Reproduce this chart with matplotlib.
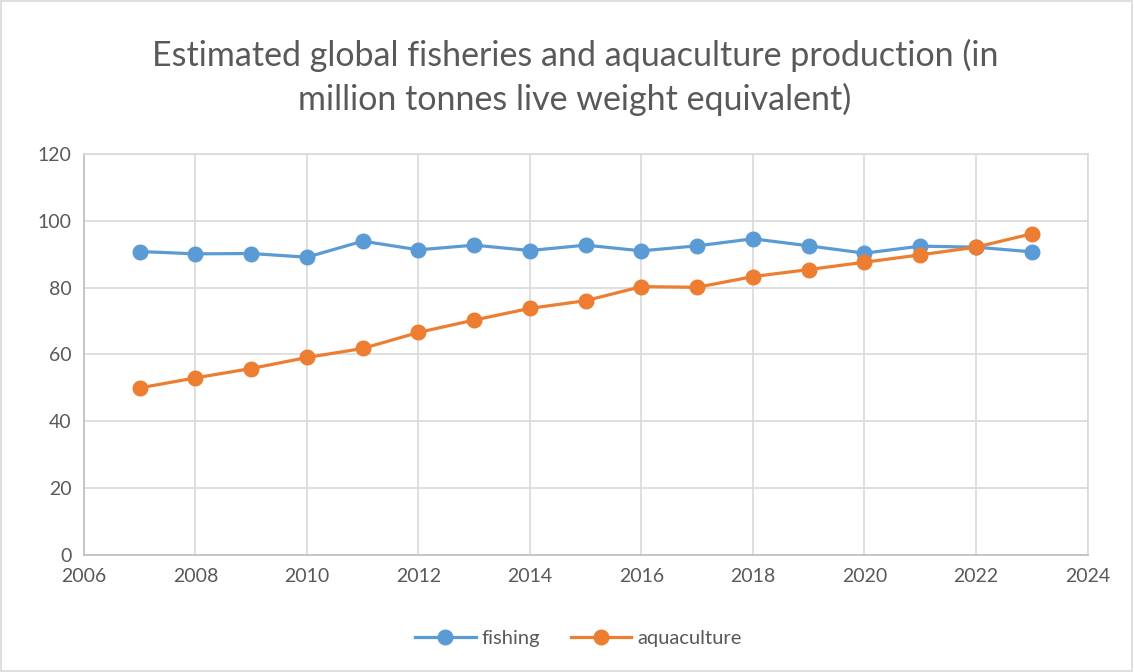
import matplotlib.pyplot as plt
from matplotlib.patches import Rectangle

years = list(range(2007, 2024))
fishing = [90.8, 90.1, 90.2, 89.1, 93.9, 91.3, 92.7, 91.1, 92.7,
           91.0, 92.5, 94.6, 92.5, 90.3, 92.4, 92.1, 90.7]
aquaculture = [50.0, 53.0, 55.8, 59.1, 61.8, 66.6, 70.3, 73.8, 76.1,
               80.3, 80.1, 83.3, 85.4, 87.6, 89.8, 92.1, 96.1]

title = "Estimated global fisheries and aquaculture production (in\nmillion tonnes live weight equivalent)"
text_grey = "#595959"
grid_grey = "#D9D9D9"

plt.rcParams['font.family'] = ['Lato', 'DejaVu Sans']

fig = plt.figure(figsize=(11.34, 6.72), dpi=100)
ax = fig.add_axes([0.074, 0.174, 0.885, 0.597])

ax.plot(years, fishing, color="#5B9BD5", lw=2.3, marker="o", ms=10.5,
        label="fishing", zorder=3)
ax.plot(years, aquaculture, color="#ED7D31", lw=2.3, marker="o", ms=10.5,
        label="aquaculture", zorder=3)

ax.set_xlim(2006, 2024)
ax.set_ylim(0, 120)
ax.set_xticks(range(2006, 2025, 2))
ax.set_yticks(range(0, 121, 20))
ax.grid(True, color=grid_grey, lw=1.2)
ax.set_axisbelow(True)
for s in ax.spines.values():
    s.set_color(grid_grey)
    s.set_linewidth(1.2)
ax.spines['bottom'].set_color("#BFBFBF")
ax.spines['left'].set_color("#BFBFBF")
ax.tick_params(length=0, labelsize=14, colors=text_grey, pad=9)

fig.text(0.507, 0.885, title, ha="center", va="center", fontsize=24.5,
         color=text_grey, linespacing=1.4)

fig.legend(loc="center", bbox_to_anchor=(0.51, 0.05), ncol=2, frameon=False,
           fontsize=14.5, labelcolor=text_grey, handlelength=3,
           columnspacing=1.5, handletextpad=0.3)

fig.patches.append(Rectangle((0.001, 0.001), 0.997, 0.997, transform=fig.transFigure,
                             fill=False, edgecolor=grid_grey, lw=1.2))

fig.savefig("out.png", dpi=100, facecolor="white")
